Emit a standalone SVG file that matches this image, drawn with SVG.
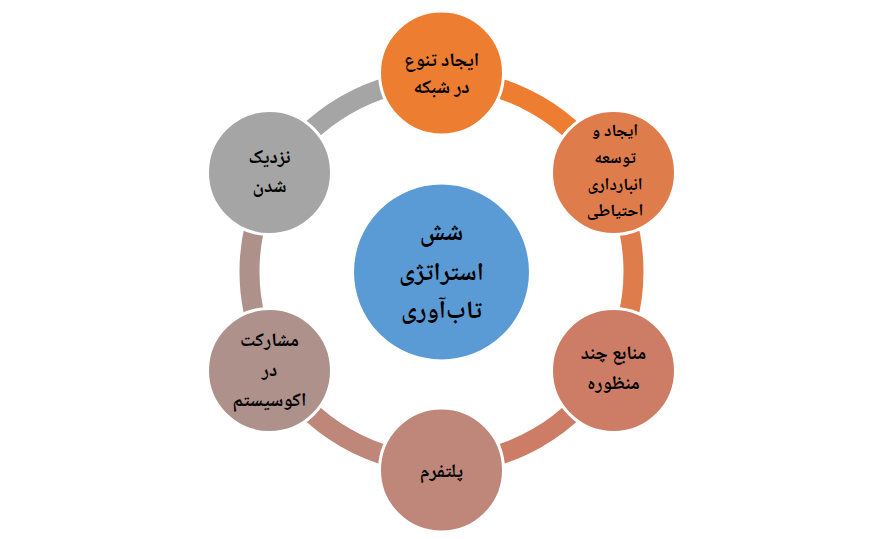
<svg xmlns="http://www.w3.org/2000/svg" width="895" height="539" viewBox="0 0 895 539">
<style>
.arc{fill:none;stroke-width:20;stroke-linecap:butt}
.node{stroke:#ffffff;stroke-width:3}
.t{font-family:"Noto Naskh Arabic","DejaVu Sans",sans-serif;font-weight:bold;fill:#000000;text-anchor:middle;font-size:19px}
.c{font-size:25px}
.s{font-size:17px}
</style>
<rect width="895" height="539" fill="#ffffff"/>
<g id="connectors">
<path class="arc" stroke="#ED7D31" d="M441.5,79.5 A192,192 0 0 1 607.78,175.5"/>
<path class="arc" stroke="#DF7C4C" d="M607.78,175.5 A192,192 0 0 1 607.78,367.5"/>
<path class="arc" stroke="#CD7D65" d="M607.78,367.5 A192,192 0 0 1 441.5,463.5"/>
<path class="arc" stroke="#BE877A" d="M441.5,463.5 A192,192 0 0 1 275.22,367.5"/>
<path class="arc" stroke="#AF918C" d="M275.22,367.5 A192,192 0 0 1 275.22,175.5"/>
<path class="arc" stroke="#A5A5A5" d="M275.22,175.5 A192,192 0 0 1 441.5,79.5"/>
</g>
<g id="center">
<circle cx="441.5" cy="272" r="89" fill="#5B9BD5" class="node"/>
<text class="t c" x="441.5" y="240">شش</text>
<text class="t c" x="441.5" y="280">استراتژی</text>
<text class="t c" x="441.5" y="318">تاب‌آوری</text>
</g>
<g id="node1">
<circle cx="441.5" cy="73" r="62" fill="#ED7D31" class="node"/>
<text class="t" x="441.5" y="66">ایجاد تنوع</text>
<text class="t" x="441.5" y="93">در شبکه</text>
</g>
<g id="node2">
<circle cx="613.5" cy="172.5" r="62" fill="#DF7C4C" class="node"/>
<text class="t s" x="615" y="136">ایجاد و</text>
<text class="t s" x="615" y="163">توسعه</text>
<text class="t s" x="615" y="190">انبارداری</text>
<text class="t s" x="615" y="216">احتیاطی</text>
</g>
<g id="node3">
<circle cx="613.5" cy="370.5" r="62" fill="#CD7D65" class="node"/>
<text class="t" x="613.5" y="359">منابع چند</text>
<text class="t" x="613.5" y="389">منظوره</text>
</g>
<g id="node4">
<circle cx="441.5" cy="470" r="62" fill="#BE877A" class="node"/>
<text class="t" x="441.5" y="477">پلتفرم</text>
</g>
<g id="node5">
<circle cx="269.5" cy="370.5" r="62" fill="#AF918C" class="node"/>
<text class="t" x="269.5" y="346">مشارکت</text>
<text class="t" x="269.5" y="376">در</text>
<text class="t" x="269.5" y="406">اکوسیستم</text>
</g>
<g id="node6">
<circle cx="269.5" cy="172.5" r="62" fill="#A5A5A5" class="node"/>
<text class="t" x="269.5" y="163">نزدیک</text>
<text class="t" x="269.5" y="192">شدن</text>
</g>
</svg>
